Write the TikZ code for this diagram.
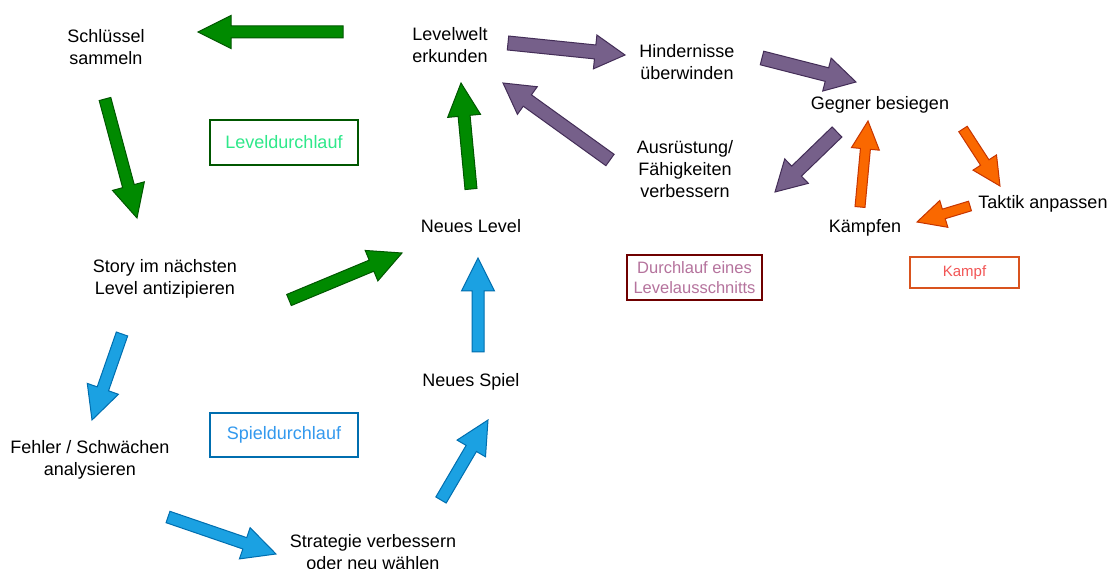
\documentclass[tikz,border=0pt]{standalone}
\usepackage{fontspec}
\setmainfont{Liberation Sans}
\usetikzlibrary{calc}
\definecolor{gfill}{HTML}{008A00}\definecolor{gline}{HTML}{005700}
\definecolor{bfill}{HTML}{1BA1E2}\definecolor{bline}{HTML}{006EAF}
\definecolor{pfill}{HTML}{76608A}\definecolor{pline}{HTML}{432D57}
\definecolor{ofill}{HTML}{FA6800}\definecolor{oline}{HTML}{C73500}
\definecolor{gtext}{HTML}{2EE88A}\definecolor{btext}{HTML}{3399EE}
\definecolor{ptext}{HTML}{B5739D}\definecolor{pbox}{HTML}{6F0000}
\definecolor{otext}{HTML}{F25555}\definecolor{obox}{HTML}{D9531E}
% block arrow: style, from, to, half shaft, half head, head length
\newcommand{\blockarr}[6]{%
  \coordinate (bac) at ($(#3)!#6pt!(#2)$);
  \draw[#1] ($(#2)!#4pt!90:(#3)$) -- ($(bac)!#4pt!90:(#3)$) -- ($(bac)!#5pt!90:(#3)$)
    -- (#3) -- ($(bac)!#5pt!-90:(#3)$) -- ($(bac)!#4pt!-90:(#3)$) -- ($(#2)!#4pt!-90:(#3)$) -- cycle;
}
\tikzset{
  lbl/.style={align=center, font=\fontsize{18}{22}\selectfont, text=black, inner sep=1pt},
  tag/.style={draw, line width=1.2pt, align=center, font=\fontsize{18}{20}\selectfont, inner sep=0pt},
  garr/.style={fill=gfill, draw=gline, line width=1pt, line join=miter},
  barr/.style={fill=bfill, draw=bline, line width=1pt, line join=miter},
  parr/.style={fill=pfill, draw=pline, line width=1pt, line join=miter},
  oarr/.style={fill=ofill, draw=oline, line width=1pt, line join=miter},
}
\begin{document}
\begin{tikzpicture}[x=1pt, y=-1pt]
\useasboundingbox[fill=white] (0,0) rectangle (1112,569);
% labels
\node[lbl] (schl) at (106,47) {Schlüssel\\sammeln};
\node[lbl] (lwelt) at (450,45) {Levelwelt\\erkunden};
\node[lbl] (hind) at (687,62) {Hindernisse\\überwinden};
\node[lbl] (gegner) at (880,105) {Gegner besiegen};
\node[lbl] (ausr) at (685,169) {Ausrüstung/\\Fähigkeiten\\verbessern};
\node[lbl] (taktik) at (1043,204) {Taktik anpassen};
\node[lbl] (kaempf) at (865,228) {Kämpfen};
\node[lbl] (nlevel) at (471,226) {Neues Level};
\node[lbl] (story) at (165,279) {Story im nächsten\\Level antizipieren};
\node[lbl] (nspiel) at (471,382) {Neues Spiel};
\node[lbl] (fehler) at (90,460) {Fehler / Schwächen\\analysieren};
\node[lbl] (strat) at (373,552) {Strategie verbessern\\oder neu wählen};
% legend boxes
\node[tag, draw=gline, text=gtext, minimum width=148pt, minimum height=45pt] (t1) at (284,142.5) {Leveldurchlauf};
\node[tag, draw=bline, text=btext, minimum width=148pt, minimum height=44pt] (t2) at (284,435) {Spieldurchlauf};
\node[tag, draw=pbox, text=ptext, minimum width=135pt, minimum height=45pt, font=\fontsize{16.5}{20}\selectfont] (t3) at (694.5,277.5) {Durchlauf eines\\Levelausschnitts};
\node[tag, draw=obox, text=otext, minimum width=109pt, minimum height=31pt, font=\fontsize{15}{18}\selectfont] (t4) at (964.5,272.5) {Kampf};
% arrow end points
\coordinate (g1a) at (343,32);  \coordinate (g1b) at (198,32);
\coordinate (g2a) at (105,99);  \coordinate (g2b) at (137,218);
\coordinate (g3a) at (289,300); \coordinate (g3b) at (402,253);
\coordinate (g4a) at (471,189); \coordinate (g4b) at (461,83);
\coordinate (b1a) at (122,334); \coordinate (b1b) at (92,420);
\coordinate (b2a) at (168,517); \coordinate (b2b) at (276,554);
\coordinate (b3a) at (441,500); \coordinate (b3b) at (488,420);
\coordinate (b4a) at (478,352); \coordinate (b4b) at (478,258);
\coordinate (p1a) at (508,43);  \coordinate (p1b) at (625,55);
\coordinate (p2a) at (762,58);  \coordinate (p2b) at (856,82);
\coordinate (p3a) at (610,160); \coordinate (p3b) at (503,83);
\coordinate (p4a) at (837,132); \coordinate (p4b) at (775,192);
\coordinate (o1a) at (963,129); \coordinate (o1b) at (1000,186);
\coordinate (o2a) at (970,206); \coordinate (o2b) at (917,222);
\coordinate (o3a) at (860,207); \coordinate (o3b) at (868,121);
% arrows
\blockarr{garr}{g1a}{g1b}{6}{16.5}{33}
\blockarr{garr}{g2a}{g2b}{6}{16.5}{33}
\blockarr{garr}{g3a}{g3b}{6}{16.5}{33}
\blockarr{garr}{g4a}{g4b}{6}{16.5}{33}
\blockarr{barr}{b1a}{b1b}{6}{16.5}{33}
\blockarr{barr}{b2a}{b2b}{6}{16.5}{33}
\blockarr{barr}{b3a}{b3b}{6}{16.5}{33}
\blockarr{barr}{b4a}{b4b}{6}{16.5}{33}
\blockarr{parr}{p1a}{p1b}{7}{17}{30}
\blockarr{parr}{p2a}{p2b}{7}{17}{30}
\blockarr{parr}{p3a}{p3b}{7}{17}{30}
\blockarr{parr}{p4a}{p4b}{7}{17}{30}
\blockarr{oarr}{o1a}{o1b}{5}{14}{28}
\blockarr{oarr}{o2a}{o2b}{5}{14}{28}
\blockarr{oarr}{o3a}{o3b}{5}{14}{28}
\end{tikzpicture}
\end{document}
